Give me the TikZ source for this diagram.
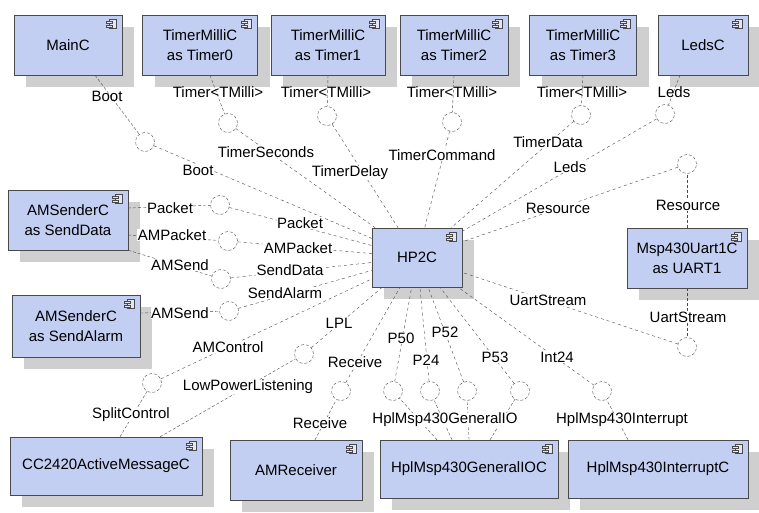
\documentclass[tikz,border=0pt]{standalone}
\usepackage{fontspec}
\setmainfont{Liberation Sans}
\usepackage{xcolor}
\usetikzlibrary{positioning,shadows}
\definecolor{compblue}{HTML}{C2CEF2}
\definecolor{edgegrey}{HTML}{4A4A4A}
\definecolor{shadegrey}{HTML}{CFCFCF}
\newcommand{\compicon}[1]{%
  \draw[edgegrey, fill=compblue!50!white, line width=0.5pt] ([xshift=-13pt,yshift=-4pt]#1.north east) rectangle ++(7,9);
  \draw[edgegrey, fill=compblue!50!white, line width=0.5pt] ([xshift=-16pt,yshift=-6pt]#1.north east) rectangle ++(6,2);
  \draw[edgegrey, fill=compblue!50!white, line width=0.5pt] ([xshift=-16pt,yshift=-10pt]#1.north east) rectangle ++(6,2);}

\begin{document}
\begin{tikzpicture}[
  x=1pt, y=-1pt,
  comp/.style={draw=edgegrey, fill=compblue, align=center, inner sep=2pt, font=\fontsize{15}{20}\selectfont,
    drop shadow={shadow xshift=12pt, shadow yshift=-12pt, fill=shadegrey, opacity=1}},
  ball/.style={circle, draw=edgegrey, densely dashed, minimum size=19pt, inner sep=0pt, fill=white},
  prov/.style={draw=edgegrey, densely dashed},
  req/.style={draw=edgegrey, dashed},
  lbl/.style={font=\fontsize{15}{17}\selectfont, fill=white, inner sep=0.5pt},
  toplbl/.style={font=\fontsize{15}{17}\selectfont, inner sep=0.5pt}
]
  \useasboundingbox[fill=white] (0,0) rectangle (759,513);

  % components
  \node[comp, minimum width=108pt, minimum height=60pt] (main) at (68,45) {MainC};
  \node[comp, minimum width=115pt, minimum height=60pt] (tzero) at (200,45) {TimerMilliC\\as Timer0};
  \node[comp, minimum width=114pt, minimum height=60pt] (tone) at (328,45) {TimerMilliC\\as Timer1};
  \node[comp, minimum width=108pt, minimum height=60pt] (ttwo) at (454,45) {TimerMilliC\\as Timer2};
  \node[comp, minimum width=107pt, minimum height=60pt] (tthree) at (583,45) {TimerMilliC\\as Timer3};
  \node[comp, minimum width=90pt, minimum height=60pt] (leds) at (703,45) {LedsC};
  \node[comp, minimum width=90pt, minimum height=59pt] (hp) at (417,257.5) {HP2C};
  \node[comp, minimum width=120pt, minimum height=60pt] (uart) at (687,258) {Msp430Uart1C\\as UART1};
  \node[comp, minimum width=120pt, minimum height=60pt] (senddata) at (68,220) {AMSenderC\\as SendData};
  \node[comp, minimum width=128pt, minimum height=62pt] (sendalarm) at (76,326) {AMSenderC\\as SendAlarm};
  \node[comp, minimum width=192pt, minimum height=58pt] (cc) at (106,466) {CC2420ActiveMessageC};
  \node[comp, minimum width=132pt, minimum height=60pt] (recv) at (296,470) {AMReceiver};
  \node[comp, minimum width=178pt, minimum height=58pt] (gio) at (469,469) {HplMsp430GeneralIOC};
  \node[comp, minimum width=180pt, minimum height=58pt] (intr) at (658,469) {HplMsp430InterruptC};
  \foreach \c in {main,tzero,tone,ttwo,tthree,leds,hp,uart,senddata,sendalarm,cc,recv,gio,intr}
    {\compicon{\c}}

  % provided interfaces
  \node[ball] (bBoot) at (145,142) {};
  \node[ball] (bTzero) at (228,123) {};
  \node[ball] (bTone) at (327,116) {};
  \node[ball] (bTtwo) at (452,122) {};
  \node[ball] (bTthree) at (581,115) {};
  \node[ball] (bLeds) at (665,114) {};
  \node[ball] (bRes) at (687,164) {};
  \node[ball] (bUart) at (687,347) {};
  \node[ball] (bPacket) at (220,205) {};
  \node[ball] (bAMPacket) at (228,241) {};
  \node[ball] (bSendD) at (221,279) {};
  \node[ball] (bSendA) at (229,311) {};
  \node[ball] (bSplit) at (152,383) {};
  \node[ball] (bLPL) at (304,354) {};
  \node[ball] (bRecv) at (341,391) {};
  \node[ball] (bPfifty) at (393,391) {};
  \node[ball] (bPtwofour) at (430,391) {};
  \node[ball] (bPfivetwo) at (467,391) {};
  \node[ball] (bPfivethree) at (520,391) {};
  \node[ball] (bInt) at (602,391) {};

  % provider side
  \draw[prov] ([xshift=27pt]main.south) -- (bBoot);
  \draw[prov] ([xshift=10pt]tzero.south) -- (bTzero);
  \draw[prov] (tone.south) -- (bTone);
  \draw[prov] (ttwo.south) -- (bTtwo);
  \draw[prov] (tthree.south) -- (bTthree);
  \draw[prov] ([xshift=-23pt]leds.south) -- (bLeds);
  \draw[prov] (uart.north) -- (bRes);
  \draw[prov] (uart.south) -- (bUart);
  \draw[prov] ([yshift=12pt]senddata.east) -- (bPacket);
  \draw[prov] ([yshift=-15pt]senddata.east) -- (bAMPacket);
  \draw[prov] (senddata.south east) -- (bSendD);
  \draw[prov] ([yshift=13pt]sendalarm.east) -- (bSendA);
  \draw[prov] ([xshift=14pt]cc.north) -- (bSplit);
  \draw[prov] ([xshift=54pt]cc.north) -- (bLPL);
  \draw[prov] ([xshift=19pt]recv.north) -- (bRecv);
  \draw[prov] ([xshift=-32pt]gio.north) -- (bPfifty);
  \draw[prov] ([xshift=-17pt]gio.north) -- (bPtwofour);
  \draw[prov] (gio.north) -- (bPfivetwo);
  \draw[prov] ([xshift=21pt]gio.north) -- (bPfivethree);
  \draw[prov] ([xshift=-30pt]intr.north) -- (bInt);

  % HP2C uses
  \foreach \b in {bBoot,bTzero,bTone,bTtwo,bTthree,bLeds,bRes,bUart,bPacket,bAMPacket,bSendD,bSendA,bSplit,bLPL,bRecv,bPfifty,bPtwofour,bPfivetwo,bPfivethree,bInt}
    {\draw[req] (\b) -- (hp);}

  % labels
  \node[toplbl] (lBootP) at (107,96) {Boot};
  \node[toplbl] (lTzeroP) at (218,92) {Timer<TMilli>};
  \node[toplbl] (lToneP) at (326,92) {Timer<TMilli>};
  \node[toplbl] (lTtwoP) at (452,92) {Timer<TMilli>};
  \node[toplbl] (lTthreeP) at (582,92) {Timer<TMilli>};
  \node[toplbl] (lLedsP) at (674,92) {Leds};
  \node[lbl] (lBoot) at (198,170) {Boot};
  \node[lbl] (lSec) at (266,152) {TimerSeconds};
  \node[lbl] (lDelay) at (350,173) {TimerDelay};
  \node[lbl] (lCmd) at (442,155) {TimerCommand};
  \node[lbl] (lData) at (548,142) {TimerData};
  \node[lbl] (lLeds) at (570,167) {Leds};
  \node[lbl] (lRes) at (558,208) {Resource};
  \node[lbl] (lResP) at (688,205) {Resource};
  \node[lbl] (lUartP) at (688,317) {UartStream};
  \node[lbl] (lUart) at (548,300) {UartStream};
  \node[lbl] (lPacketP) at (170,208) {Packet};
  \node[lbl] (lPacket) at (300,223) {Packet};
  \node[lbl] (lAMPacketP) at (172,235) {AMPacket};
  \node[lbl] (lAMPacket) at (298,248) {AMPacket};
  \node[lbl] (lSendDP) at (180,265) {AMSend};
  \node[lbl] (lSendD) at (290,270) {SendData};
  \node[lbl] (lSendA) at (285,293) {SendAlarm};
  \node[lbl] (lSendAP) at (180,313) {AMSend};
  \node[lbl] (lLPL) at (339,323) {LPL};
  \node[lbl] (lCtrl) at (228,347) {AMControl};
  \node[lbl] (lRecv) at (355,362) {Receive};
  \node[lbl] (lLPLP) at (248,387) {LowPowerListening};
  \node[lbl] (lSplitP) at (131,415) {SplitControl};
  \node[lbl] (lRecvP) at (320,423) {Receive};
  \node[lbl] (lPfifty) at (401,338) {P50};
  \node[lbl] (lPtwofour) at (426,360) {P24};
  \node[lbl] (lPfivetwo) at (445,332) {P52};
  \node[lbl] (lPfivethree) at (495,357) {P53};
  \node[lbl] (lInt) at (557,357) {Int24};
  \node[lbl] (lGioP) at (445,420) {HplMsp430GeneralIO};
  \node[lbl] (lIntP) at (622,420) {HplMsp430Interrupt};
\end{tikzpicture}
\end{document}
